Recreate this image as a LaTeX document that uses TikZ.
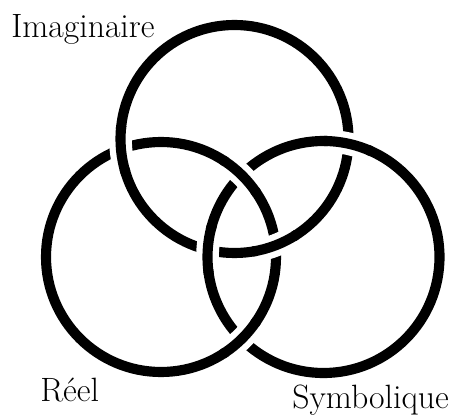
\documentclass[tikz,border=0pt]{standalone}
\begin{document}
\begin{tikzpicture}[x=0.75pt,y=-0.75pt,
  ring/.style={line width=7.6pt,black},
  gapw/.style={line width=17pt,white},
  lbl/.style={anchor=base west,inner sep=0pt,font=\fontsize{25.3}{30}\selectfont}]
\useasboundingbox (0,0) rectangle (463,416);
\coordinate (I) at (234.5,139);
\coordinate (R) at (161,257);
\coordinate (S) at (323.5,257);
\draw[ring] (I) circle[radius=114];
\draw[ring] (R) circle[radius=115];
\draw[ring] (S) circle[radius=116];
\foreach \c/\r/\a in {I/114/174.9, I/114/68.9, S/116/183.6, S/116/282.3, R/115/-45.5, R/115/45.5}{
  \draw[gapw] (\c) ++(\a-10:\r) arc[start angle=\a-10, end angle=\a+10, radius=\r];
  \draw[ring] (\c) ++(\a-12:\r) arc[start angle=\a-12, end angle=\a+12, radius=\r];
}
\node[lbl] (im) at (11,38) {Imaginaire};
\node[lbl] (re) at (40,401) {Réel};
\node[lbl] (sy) at (292,408) {Symbolique};
\end{tikzpicture}
\end{document}
